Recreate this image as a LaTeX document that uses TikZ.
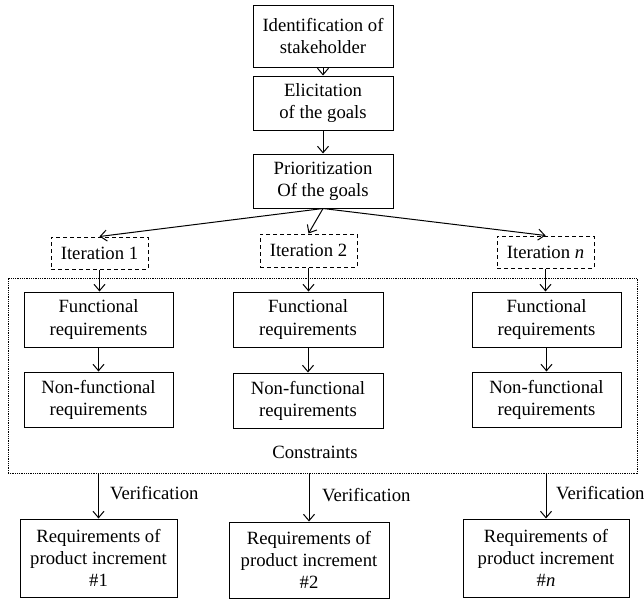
\documentclass[tikz,border=0pt]{standalone}
\usepackage{fontspec}
\setmainfont{Liberation Serif}
\usetikzlibrary{arrows.meta}

\tikzset{
  box/.style={draw, line width=1pt, inner sep=0pt, align=center,
    font=\fontsize{18.7}{22.2}\selectfont},
  itbox/.style={box, dash pattern=on 4pt off 3pt},
  frame/.style={draw, line width=0.7pt, dash pattern=on 0.9pt off 0.9pt},
  lbl/.style={inner sep=0pt, font=\fontsize{18.7}{22.2}\selectfont},
  arr/.style={line width=1pt, -{Straight Barb[length=6.5pt,width=11pt,line width=1pt]}},
}

\begin{document}
\begin{tikzpicture}[x=1pt,y=-1pt]
\useasboundingbox (0,0) rectangle (644,600);

% goal identification chain
\node[box, minimum width=140, minimum height=62] (ident) at (323,36) {Identification of\\stakeholder};
\node[box, minimum width=140, minimum height=54] (elic) at (323,103) {Elicitation\\of the goals};
\node[box, minimum width=140, minimum height=54] (prio) at (323,181) {Prioritization\\Of the goals};

% iterations
\node[itbox, minimum width=97, minimum height=32] (it1) at (99.5,253) {Iteration 1};
\node[itbox, minimum width=97, minimum height=33] (it2) at (308.5,250.5) {Iteration 2};
\node[itbox, minimum width=97, minimum height=32] (itn) at (545.5,252) {Iteration \textit{n}};

% constraints frame
\node[frame, inner sep=0pt, minimum width=629, minimum height=195] (cons) at (322.5,375.5) {};
\node[lbl] (constext) at (315,452) {Constraints};

% functional / non-functional requirements
\node[box, minimum width=149, minimum height=55] (f1) at (98.5,319.5) {Functional\\requirements};
\node[box, minimum width=150, minimum height=55] (f2) at (308,319.5) {Functional\\requirements};
\node[box, minimum width=149, minimum height=55] (f3) at (546.5,319.5) {Functional\\requirements};
\node[box, minimum width=149, minimum height=55] (n1) at (98.5,399.5) {Non-functional\\requirements};
\node[box, minimum width=150, minimum height=55] (n2) at (308,400.5) {Non-functional\\requirements};
\node[box, minimum width=149, minimum height=55] (n3) at (546.5,399.5) {Non-functional\\requirements};

% product increments
\node[box, minimum width=157, minimum height=78] (r1) at (98.5,558) {Requirements of\\product increment\\\#1};
\node[box, minimum width=160, minimum height=76] (r2) at (309,560) {Requirements of\\product increment\\\#2};
\node[box, minimum width=166, minimum height=78] (r3) at (546,558) {Requirements of\\product increment\\\#\textit{n}};

% verification labels
\node[lbl, anchor=west] (v1) at (110,493) {Verification};
\node[lbl, anchor=west] (v2) at (322,495) {Verification};
\node[lbl, anchor=west] (v3) at (556,493) {Verification};

% connectors
\draw[arr] (ident) -- (elic);
\draw[arr] (elic) -- (prio);
\draw[arr] (prio.south) -- (it1.north);
\draw[arr] (prio.south) -- (it2.north);
\draw[arr] (prio.south) -- (itn.north);
\draw[arr] (it1.south) -- (it1.south |- f1.north);
\draw[arr] (it2.south) -- (it2.south |- f2.north);
\draw[arr] (itn.south) -- (itn.south |- f3.north);
\draw[arr] (f1) -- (n1);
\draw[arr] (f2) -- (n2);
\draw[arr] (f3) -- (n3);
\draw[arr] (r1.north |- cons.south) -- (r1.north);
\draw[arr] (r2.north |- cons.south) -- (r2.north);
\draw[arr] (r3.north |- cons.south) -- (r3.north);
\end{tikzpicture}
\end{document}
